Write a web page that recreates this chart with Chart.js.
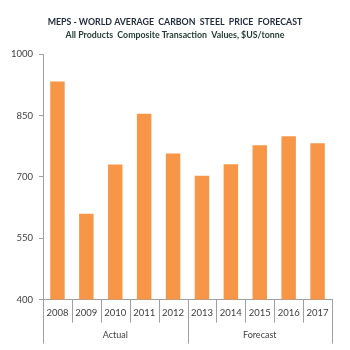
<!DOCTYPE html>
<html>
<head>
<meta charset="utf-8">
<script src="https://cdn.jsdelivr.net/npm/chart.js@4"></script>
<style>
  html, body { margin: 0; padding: 0; background: #ffffff; }
  #wrap { width: 350px; height: 350px; position: relative; }
</style>
</head>
<body>
<div id="wrap"><canvas id="c" width="350" height="350"></canvas></div>
<script>
const categories = ['2008','2009','2010','2011','2012','2013','2014','2015','2016','2017'];
const prices = [933, 610, 730, 854, 757, 703, 731, 777, 799, 782];
const groupNames = ['Actual', 'Forecast'];
const groupSizes = [5, 5];
const yTicks = [400, 550, 700, 850, 1000];

const AXIS_COLOR = '#a0a0a0';
const TEXT_COLOR = '#404040';
const FONT = 'Lato, "Liberation Sans", sans-serif';

const groupPlugin = {
  id: 'groupAxis',
  afterDraw(chart) {
    const x = chart.scales.x;
    const ctx = chart.ctx;
    const bottom = chart.chartArea.bottom;
    const n = categories.length;
    const half = (x.getPixelForValue(1) - x.getPixelForValue(0)) / 2;
    const boundary = i => i === 0 ? x.left : (i === n ? x.right : x.getPixelForValue(i) - half);
    const groupEdges = [0];
    groupSizes.forEach(s => groupEdges.push(groupEdges[groupEdges.length - 1] + s));
    ctx.save();
    ctx.strokeStyle = AXIS_COLOR;
    ctx.lineWidth = 1;
    for (let i = 0; i <= n; i++) {
      const px = Math.round(boundary(i)) + 0.5;
      const len = groupEdges.includes(i) ? 44 : 23;
      ctx.beginPath();
      ctx.moveTo(px, bottom);
      ctx.lineTo(px, bottom + len);
      ctx.stroke();
    }
    ctx.fillStyle = TEXT_COLOR;
    ctx.font = '9px ' + FONT;
    ctx.textAlign = 'center';
    ctx.textBaseline = 'middle';
    groupNames.forEach((name, g) => {
      const cx = (boundary(groupEdges[g]) + boundary(groupEdges[g + 1])) / 2;
      ctx.fillText(name, cx, bottom + 35);
    });
    ctx.restore();
  }
};

new Chart(document.getElementById('c'), {
  type: 'bar',
  data: {
    labels: categories,
    datasets: [{
      data: prices,
      backgroundColor: '#F79646',
      borderWidth: 0,
      categoryPercentage: 1.0,
      barPercentage: 0.5
    }]
  },
  options: {
    responsive: false,
    animation: false,
    devicePixelRatio: 1,
    layout: { padding: { left: 11, right: 11, top: 5, bottom: 31 } },
    plugins: {
      legend: { display: false },
      tooltip: { enabled: false },
      title: {
        display: true,
        text: 'MEPS - WORLD AVERAGE  CARBON  STEEL  PRICE  FORECAST',
        color: '#1f2a3a',
        font: { family: FONT, size: 8.8, weight: 'bold' },
        padding: { top: 12, bottom: 2 }
      },
      subtitle: {
        display: true,
        text: 'All Products  Composite Transaction  Values, $US/tonne',
        color: '#1f3a30',
        font: { family: FONT, size: 8.8, weight: 'bold' },
        padding: { top: 0, bottom: 14 }
      }
    },
    scales: {
      x: {
        grid: { display: false },
        border: { display: true, color: AXIS_COLOR },
        ticks: { color: TEXT_COLOR, font: { family: FONT, size: 9.5 }, padding: 0, maxRotation: 0, autoSkip: false }
      },
      y: {
        min: 400,
        max: 1000,
        afterBuildTicks(axis) { axis.ticks = yTicks.map(v => ({ value: v })); },
        afterFit(axis) { axis.width = 32; },
        grid: { drawOnChartArea: false, tickLength: 4, color: AXIS_COLOR },
        border: { display: true, color: AXIS_COLOR },
        ticks: { color: TEXT_COLOR, font: { family: FONT, size: 9.5 }, padding: 6, callback: v => String(v) }
      },
      yRight: {
        position: 'right',
        display: true,
        min: 400,
        max: 1000,
        grid: { display: false },
        border: { display: false },
        ticks: { display: false },
        afterFit(axis) { axis.width = 7; }
      }
    }
  },
  plugins: [groupPlugin]
});
</script>
</body>
</html>
